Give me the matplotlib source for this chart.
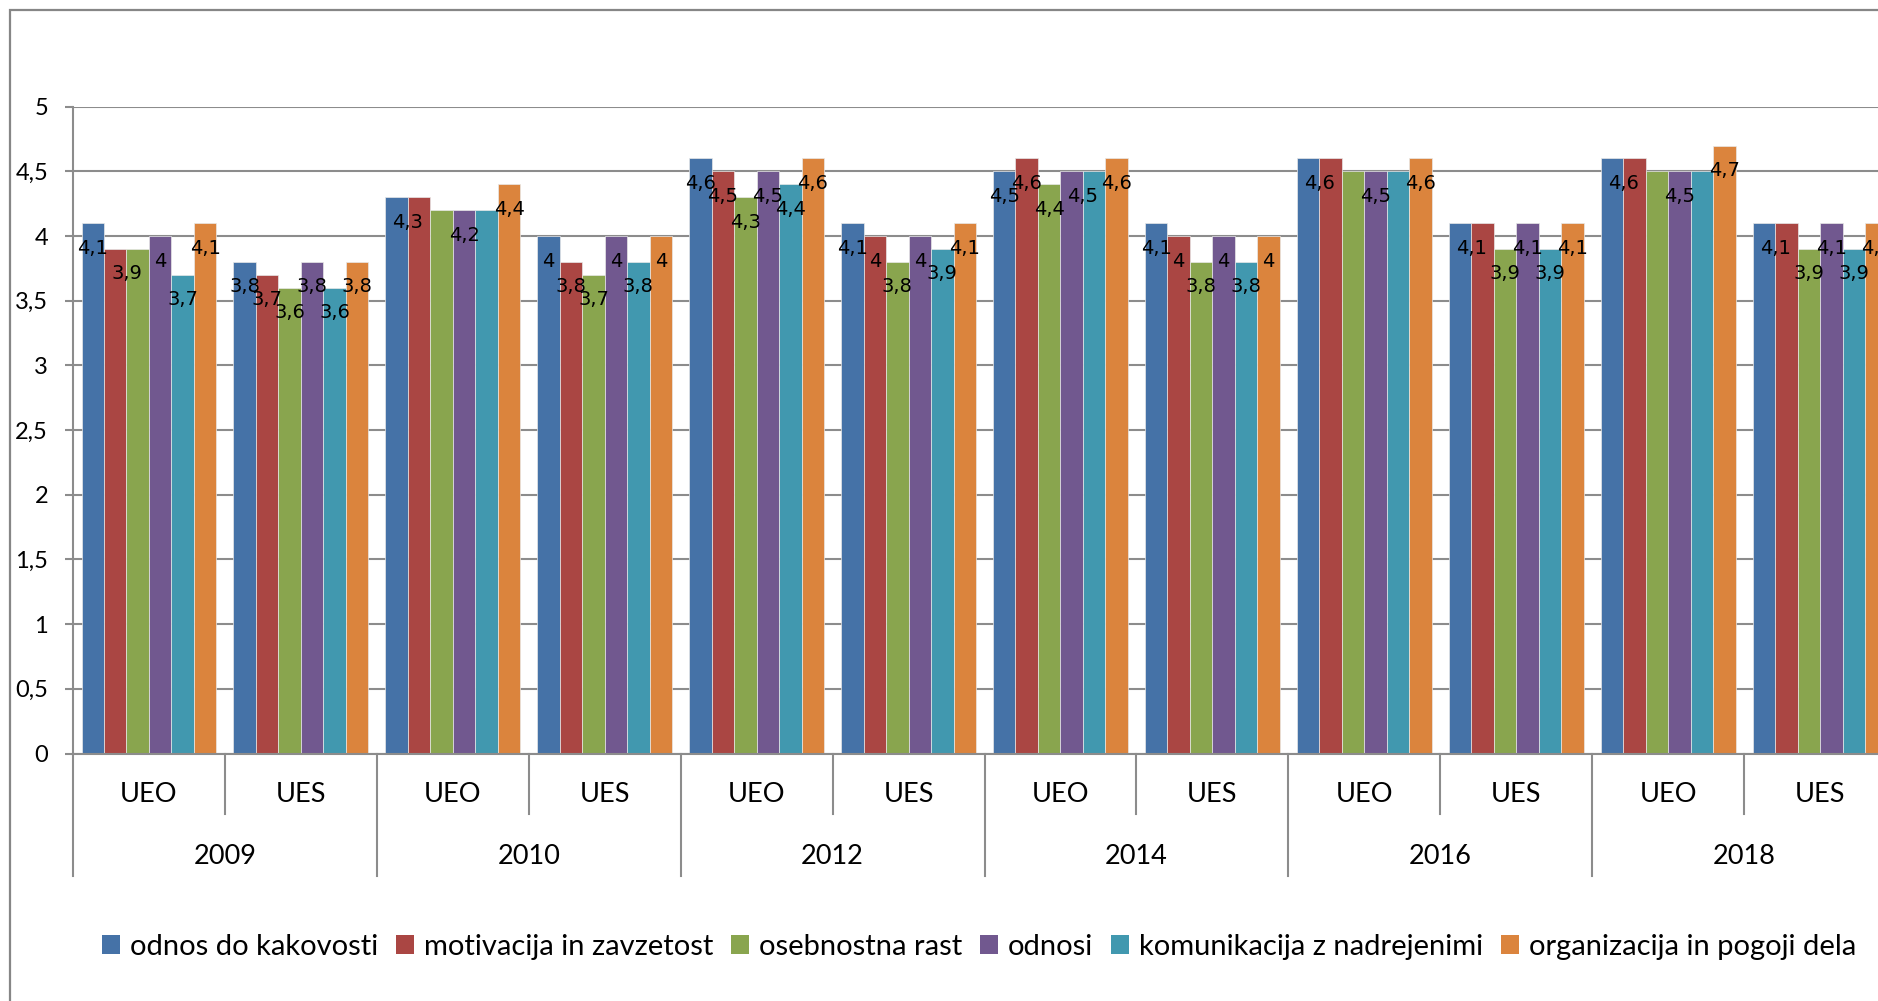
import matplotlib.pyplot as plt
import numpy as np
from matplotlib.patches import Rectangle, Patch
from matplotlib.transforms import blended_transform_factory

# survey scores per group, groups ordered year by year: UEO, UES
years = ['2009', '2010', '2012', '2014', '2016', '2018']
units = ['UEO', 'UES']
series = ['odnos do kakovosti', 'motivacija in zavzetost', 'osebnostna rast',
          'odnosi', 'komunikacija z nadrejenimi', 'organizacija in pogoji dela']
colors = ['#4572A7', '#AA4643', '#89A54E', '#71588F', '#4198AF', '#DB843D']

odnos_do_kakovosti = [4.1, 3.8, 4.3, 4.0, 4.6, 4.1, 4.5, 4.1, 4.6, 4.1, 4.6, 4.1]
motivacija         = [3.9, 3.7, 4.3, 3.8, 4.5, 4.0, 4.6, 4.0, 4.6, 4.1, 4.6, 4.1]
osebnostna_rast    = [3.9, 3.6, 4.2, 3.7, 4.3, 3.8, 4.4, 3.8, 4.5, 3.9, 4.5, 3.9]
odnosi             = [4.0, 3.8, 4.2, 4.0, 4.5, 4.0, 4.5, 4.0, 4.5, 4.1, 4.5, 4.1]
komunikacija       = [3.7, 3.6, 4.2, 3.8, 4.4, 3.9, 4.5, 3.8, 4.5, 3.9, 4.5, 3.9]
organizacija       = [4.1, 3.8, 4.4, 4.0, 4.6, 4.1, 4.6, 4.0, 4.6, 4.1, 4.7, 4.1]

values = [odnos_do_kakovosti, motivacija, osebnostna_rast, odnosi, komunikacija, organizacija]
yticks = np.arange(0, 5.01, 0.5)

GRAY = '#8c8c8c'
cat_font = 'Lato'

def fmt(v):
    return '{:g}'.format(v).replace('.', ',')

W, H = 1878, 1001
fig = plt.figure(figsize=(W / 100, H / 100), dpi=100)

# chart border, runs off the right and bottom edges
fig.patches.append(Rectangle((10 / W, -0.2), 2.0, 1.2 - 10 / H, transform=fig.transFigure,
                             fill=False, ec='#868686', lw=1.6, zorder=0))

ax_left, ax_right = 73, 1896
ax_top, ax_bot = 106.7, 753.5
ax = fig.add_axes([ax_left / W, 1 - ax_bot / H, (ax_right - ax_left) / W, (ax_bot - ax_top) / H])

n_groups = len(values[0])
n_ser = len(values)
bw = 0.148
x = np.arange(n_groups) + 0.5

for j, (vals, c, name) in enumerate(zip(values, colors, series)):
    ax.bar(x + (j - (n_ser - 1) / 2) * bw, vals, width=bw, color=c,
           edgecolor='#e8e8e8', linewidth=0.5, zorder=3, label=name)

# data labels; neighbouring bars with the same value share one label
for g in range(n_groups):
    j = 0
    while j < n_ser:
        k = j
        while k + 1 < n_ser and values[k + 1][g] == values[j][g]:
            k += 1
        xc = x[g] + ((j + k) / 2 - (n_ser - 1) / 2) * bw
        ax.annotate(fmt(values[j][g]), (xc, values[j][g]), xytext=(0, -18),
                    textcoords='offset points', ha='center', va='center',
                    fontsize=14, family='DejaVu Sans', color='black', zorder=5)
        j = k + 1

ax.set_xlim(0, n_groups)
ax.set_ylim(0, 5)
ax.set_yticks(yticks)
ax.set_yticklabels([fmt(v) for v in yticks], family=cat_font, fontsize=17)
ax.yaxis.grid(True, color=GRAY, lw=1.5, zorder=0)
ax.tick_params(axis='y', length=6, width=1.5, color=GRAY, pad=12)
ax.set_xticks([])
for s in ['top', 'right']:
    ax.spines[s].set_visible(False)
for s in ['left', 'bottom']:
    ax.spines[s].set_color(GRAY)
    ax.spines[s].set_linewidth(1.5)
    ax.spines[s].set_zorder(4)

# two-level category axis
tr = blended_transform_factory(ax.transData, ax.transAxes)
h_ax = ax_bot - ax_top
inner_y = -(814 - ax_bot) / h_ax
outer_y = -(876 - ax_bot) / h_ax
for b in range(n_groups + 1):
    y_end = outer_y if b % 2 == 0 else inner_y
    ax.plot([b, b], [0, y_end], color=GRAY, lw=1.5, transform=tr, clip_on=False)
for g in range(n_groups):
    ax.text(x[g], -(795 - ax_bot) / h_ax, units[g % 2], transform=tr, ha='center', va='center',
            family=cat_font, fontsize=19.5)
for i, yr in enumerate(years):
    ax.text(2 * i + 1, -(856 - ax_bot) / h_ax, yr, transform=tr, ha='center', va='center',
            family=cat_font, fontsize=19.5)

handles = [Patch(facecolor=c, edgecolor='none') for c in colors]
leg = fig.legend(handles, series, loc='center', bbox_to_anchor=(979 / W, 1 - 947 / H), ncol=6,
                 frameon=False, prop={'family': cat_font, 'size': 21}, handlelength=0.62,
                 handleheight=0.62, handletextpad=0.35, columnspacing=0.6, borderaxespad=0)

fig.savefig('out.png', dpi=100)
